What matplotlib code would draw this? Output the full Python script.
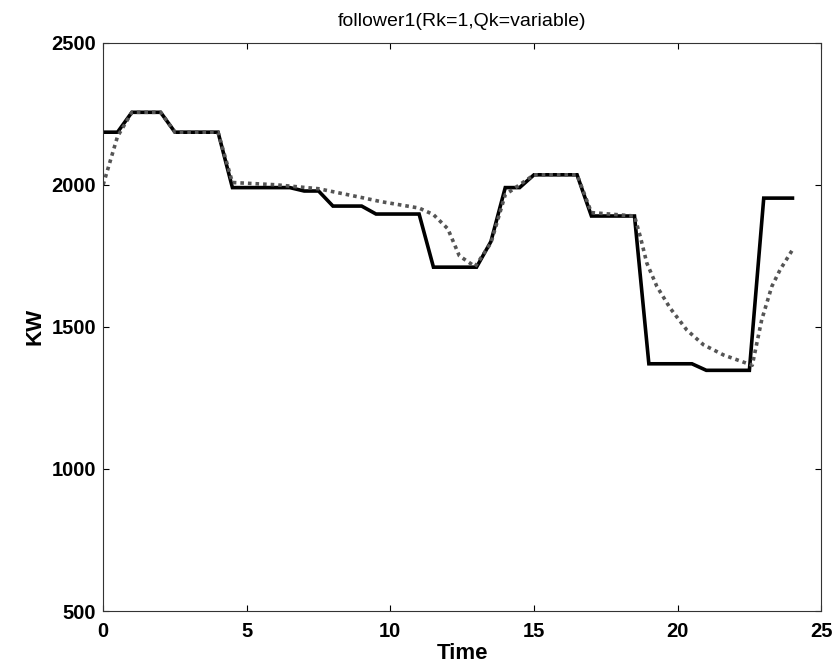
import numpy as np
import matplotlib.pyplot as plt

plt.rcParams['font.family'] = ['Liberation Sans', 'DejaVu Sans']

# -- Data -----------------------------------------------------------------
t_actual = [0, 0.5, 1.0, 2.0, 2.5, 4.0, 4.5, 6.5, 7.0, 7.5, 8.0, 9.0, 9.5,
            11.0, 11.5, 13.0, 13.5, 14.0, 14.5, 15.0, 16.5, 17.0, 18.5,
            19.0, 20.5, 21.0, 22.5, 23.0, 24.0]
kw_actual = [2185, 2185, 2255, 2255, 2185, 2185, 1990, 1990, 1978, 1978,
             1925, 1925, 1897, 1897, 1710, 1710, 1800, 1990, 1990, 2035,
             2035, 1890, 1890, 1370, 1370, 1347, 1347, 1953, 1953]

t_follow = [0, 0.5, 1.0, 2.0, 2.5, 4.0, 4.5, 6.0, 7.5, 9.0, 9.65, 11.0,
            11.5, 12.0, 12.4, 12.95, 13.5, 14.0, 14.5, 15.0, 16.5, 17.0,
            18.5, 18.7, 18.93, 19.28, 19.74, 20.32, 20.9, 21.6, 22.4, 22.6,
            22.93, 23.28, 23.57, 24.0]
kw_follow = [2000, 2170, 2255, 2255, 2185, 2185, 2008, 2000, 1986, 1955,
             1941, 1918, 1895, 1845, 1750, 1712, 1795, 1965, 2000, 2035,
             2035, 1902, 1890, 1818, 1724, 1642, 1566, 1489, 1437, 1401,
             1372, 1365, 1525, 1642, 1701, 1771]

x_ticks = [0, 5, 10, 15, 20, 25]
y_ticks = [500, 1000, 1500, 2000, 2500]

# -- Plot ------------------------------------------------------------------
fig = plt.figure(figsize=(8.32, 6.71), dpi=100)
ax = fig.add_axes([0.124, 0.0894, 0.863, 0.847])

ax.plot(t_actual, kw_actual, color='black', lw=2.6, solid_joinstyle='miter')
ax.plot(t_follow, kw_follow, color='#555555', lw=2.6, ls=(0, (1, 1.1)))

ax.set_xlim(0, 25)
ax.set_ylim(500, 2500)
ax.set_xticks(x_ticks)
ax.set_yticks(y_ticks)
ax.tick_params(axis='both', direction='in', length=4, width=0.8,
               labelsize=14.5, top=True, right=True)
ax.tick_params(axis='x', pad=8)
ax.tick_params(axis='y', pad=5)
for lab in ax.get_xticklabels() + ax.get_yticklabels():
    lab.set_fontweight('bold')
for sp in ax.spines.values():
    sp.set_linewidth(0.8)
    sp.set_color('#333333')

ax.set_title("follower1(Rk=1,Qk=variable)", fontsize=14, pad=12)
ax.set_xlabel("Time", fontsize=16, fontweight='bold', labelpad=1)
ax.set_ylabel("KW", fontsize=16, fontweight='bold', labelpad=4)

plt.savefig("out.png", dpi=100)
plt.close()
